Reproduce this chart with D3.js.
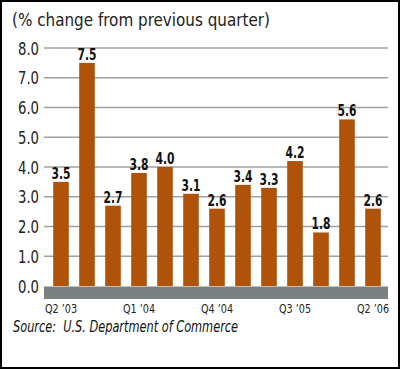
<!DOCTYPE html>
<html><head><meta charset="utf-8">
<script src="https://cdn.jsdelivr.net/npm/d3@7"></script>
<style>
html,body{margin:0;padding:0;background:#fff;}
svg{display:block;}
</style></head>
<body>
<svg id="chart" width="400" height="369"></svg>
<script>
const categories = ["Q2 '03","Q3 '03","Q4 '03","Q1 '04","Q2 '04","Q3 '04","Q4 '04","Q1 '05","Q2 '05","Q3 '05","Q4 '05","Q1 '06","Q2 '06"];
const values = [3.5, 7.5, 2.7, 3.8, 4.0, 3.1, 2.6, 3.4, 3.3, 4.2, 1.8, 5.6, 2.6];
const yTicks = [0, 1, 2, 3, 4, 5, 6, 7, 8];
const xTickLabels = {"Q2 '03":"Q2 \u201903","Q1 '04":"Q1 \u201904","Q4 '04":"Q4 \u201904","Q3 '05":"Q3 \u201905","Q2 '06":"Q2 \u201906"};
const title = "(% change from previous quarter)";
const source = "Source:  U.S. Department of Commerce";

const svg = d3.select("#chart");
const font = '"Liberation Sans Narrow","DejaVu Sans Condensed","Arial Narrow",sans-serif';

// border
svg.append("rect").attr("x",1).attr("y",1).attr("width",398).attr("height",367)
  .attr("fill","#fff").attr("stroke","#000").attr("stroke-width",2);

const x = d3.scaleBand().domain(categories).range([48,386]).paddingInner(0.4).paddingOuter(0.2);
const y = d3.scaleLinear().domain([0,8]).range([286,48]);

// y labels
const yAxis = d3.axisLeft(y).tickValues(yTicks).tickFormat(d3.format(".1f")).tickSize(0).tickPadding(5);
const gy = svg.append("g").attr("transform","translate(44,0)").call(yAxis);
gy.select(".domain").remove();
gy.selectAll(".tick line").remove();
gy.selectAll("text").attr("font-family",font).attr("font-size",17).attr("fill","#222")
  .attr("textLength",21).attr("lengthAdjust","spacingAndGlyphs").attr("dy","0.36em");
// gridlines
svg.append("g").selectAll("line").data(yTicks.filter(d=>d>0)).join("line")
  .attr("x1",44).attr("x2",388).attr("y1",d=>y(d)).attr("y2",d=>y(d))
  .attr("stroke","#a0a0a0").attr("stroke-width",1.5);

// bars
svg.append("g").selectAll("rect").data(values).join("rect")
  .attr("x",(d,i)=>x(categories[i])).attr("width",x.bandwidth())
  .attr("y",d=>y(d)).attr("height",d=>y(0)-y(d))
  .attr("fill","#b0530a");

// base band
svg.append("rect").attr("x",44).attr("y",y(0)+0.5).attr("width",344).attr("height",12.5).attr("fill","#7b8180");

// value labels
svg.append("g").selectAll("text").data(values).join("text")
  .attr("x",(d,i)=>x(categories[i])+x.bandwidth()/2).attr("y",d=>y(d)-3)
  .attr("text-anchor","middle").attr("font-family",font).attr("font-weight","bold")
  .attr("font-size",15).attr("fill","#111")
  .attr("textLength",19).attr("lengthAdjust","spacingAndGlyphs")
  .text(d=>d3.format(".1f")(d));

// x axis labels
const xAxis = d3.axisBottom(x).tickValues(Object.keys(xTickLabels)).tickFormat(d=>xTickLabels[d]).tickSize(0).tickPadding(0);
const gx = svg.append("g").attr("transform","translate(0,304)").call(xAxis);
gx.select(".domain").remove();
gx.selectAll("text").attr("font-family",font).attr("font-size",13).attr("fill","#222")
  .attr("textLength",32).attr("lengthAdjust","spacingAndGlyphs");

// title
svg.append("text").attr("x",12).attr("y",26).attr("font-family",font).attr("font-size",18)
  .attr("fill","#222").attr("textLength",258).attr("lengthAdjust","spacingAndGlyphs").text(title);

// source
svg.append("text").attr("x",13).attr("y",332).attr("font-family",font).attr("font-size",15)
  .attr("font-style","italic").attr("fill","#111").style("white-space","pre")
  .attr("textLength",225).attr("lengthAdjust","spacingAndGlyphs").text(source);
</script>
</body></html>
